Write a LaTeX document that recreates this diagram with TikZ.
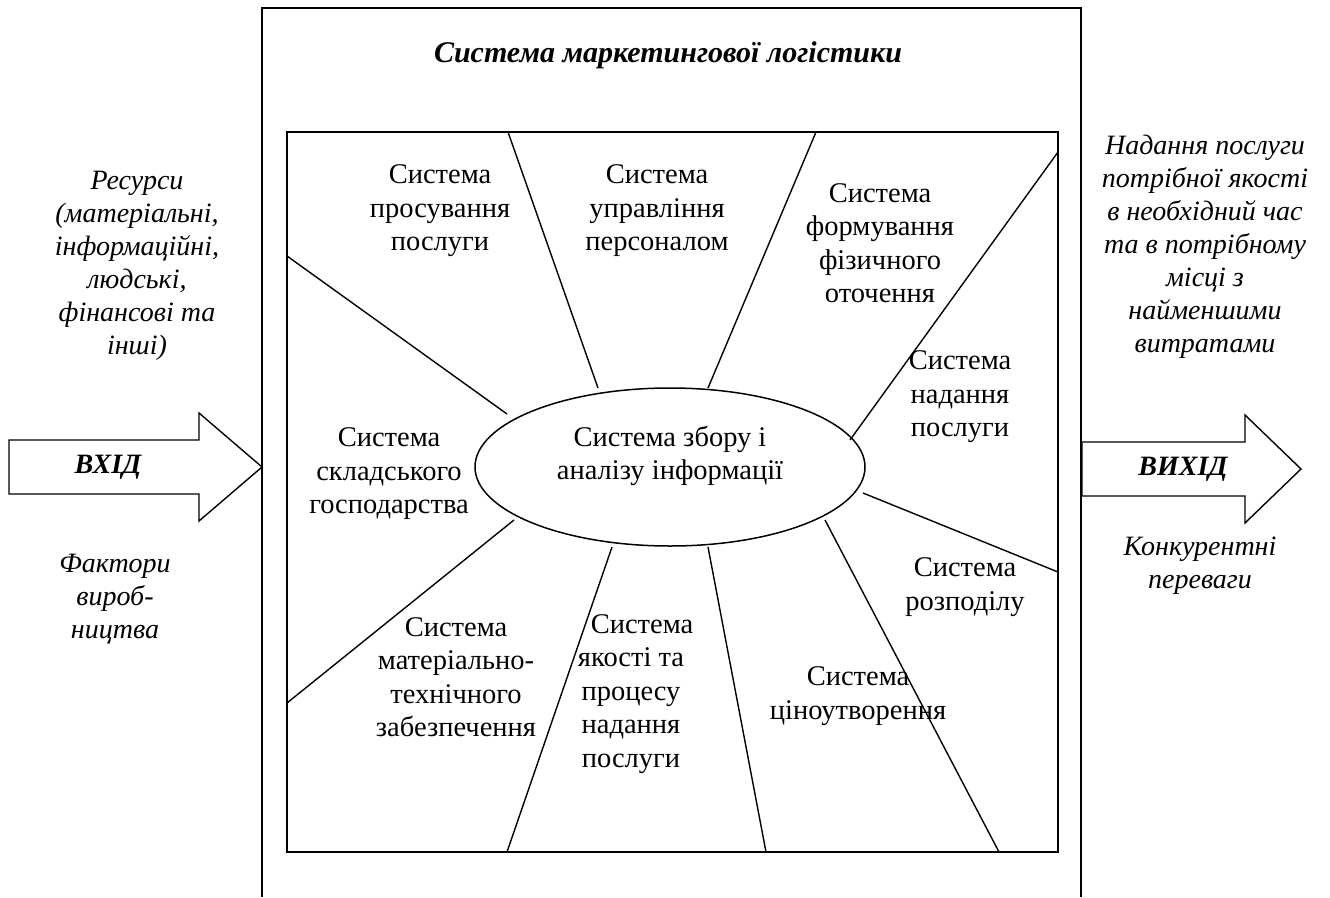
\documentclass[tikz,border=0pt]{standalone}
\usepackage{fontspec}
\setmainfont{Liberation Serif}
\usetikzlibrary{shapes.geometric}
\begin{document}
\begin{tikzpicture}[x=1pt,y=-1pt,
  frame/.style={line width=1.7pt},
  spoke/.style={line width=1.4pt},
  lbl/.style={font=\fontsize{28.5}{33.5}\selectfont, align=center, inner sep=0pt},
  side/.style={font=\fontsize{28}{33}\selectfont\itshape, align=center, inner sep=0pt},
  big/.style={font=\fontsize{28}{33}\selectfont\bfseries\itshape, inner sep=0pt},
  arrowbox/.style={draw, line width=1.4pt, fill=white}]
\useasboundingbox (0,0) rectangle (1330,897);
\fill[white] (0,0) rectangle (1330,897);
% outer frame
\coordinate (obl) at (262,897);
\coordinate (otl) at (262,8);
\coordinate (otr) at (1081,8);
\coordinate (obr) at (1081,897);
\draw[frame] (obl) -- (otl) -- (otr) -- (obr);
\node[big, font=\fontsize{30}{34}\selectfont\bfseries\itshape] (title) at (668,55) {Система маркетингової логістики};
% inner box and ellipse
\node[draw, frame, minimum width=771pt, minimum height=720pt, inner sep=0pt] (inner) at (672.5,492) {};
\node[ellipse, draw, line width=1.5pt, minimum width=390pt, minimum height=158pt, inner sep=0pt] (ell) at (670,467) {};
\node[lbl] (elltext) at (670,456) {Система збору і\\аналізу інформації};
% spokes
\coordinate (b1) at (508,132);  \coordinate (e1) at (598,388);
\coordinate (b2) at (816,132);  \coordinate (e2) at (708,388);
\coordinate (b3) at (1058,152); \coordinate (e3) at (850,440);
\coordinate (b4) at (287,256);  \coordinate (e4) at (507,414);
\coordinate (b5) at (1058,572); \coordinate (e5) at (863,493);
\coordinate (b6) at (287,703);  \coordinate (e6) at (514,520);
\coordinate (b7) at (507,852);  \coordinate (e7) at (612,547);
\coordinate (b8) at (766,852);  \coordinate (e8) at (708,547);
\coordinate (b9) at (999,852);  \coordinate (e9) at (825,520);
\foreach \i in {1,...,9} {\draw[spoke] (b\i) -- (e\i);}
% inner labels
\node[lbl] (l1) at (440,211) {Система\\просування\\послуги};
\node[lbl] (l2) at (657,211) {Система\\управління\\персоналом};
\node[lbl] (l3) at (880,243) {Система\\формування\\фізичного\\оточення};
\node[lbl] (l4) at (960,397) {Система\\надання\\послуги};
\node[lbl] (l5) at (389,474) {Система\\складського\\господарства};
\node[lbl] (l6) at (965,587) {Система\\розподілу};
\node[lbl] (l7) at (456,677) {Система\\матеріально-\\технічного\\забезпечення};
\node[lbl] (l8) at (631,694) {\hspace*{22pt}Система\\якості та\\процесу\\надання\\послуги};
\node[lbl] (l9) at (858,696) {Система\\ціноутворення};
% left side
\node[side] (res) at (137,266) {Ресурси\\(матеріальні,\\інформаційні,\\людські,\\фінансові та\\інші)};
\draw[arrowbox] (9,440) -- (199,440) -- (199,413) -- (262,467) -- (199,521) -- (199,494) -- (9,494) -- cycle;
\node[big] (in) at (108,467) {ВХІД};
\node[side] (fac) at (115,599) {Фактори\\вироб-\\ництва};
% right side
\node[side] (out) at (1205,247) {Надання послуги\\потрібної якості\\в необхідний час\\та в потрібному\\місці з\\найменшими\\витратами};
\draw[arrowbox] (1082,442) -- (1245,442) -- (1245,415) -- (1301,469) -- (1245,523) -- (1245,496) -- (1082,496) -- cycle;
\node[big] (outl) at (1183,469) {ВИХІД};
\node[side] (adv) at (1200,566) {Конкурентні\\переваги};
\end{tikzpicture}
\end{document}
